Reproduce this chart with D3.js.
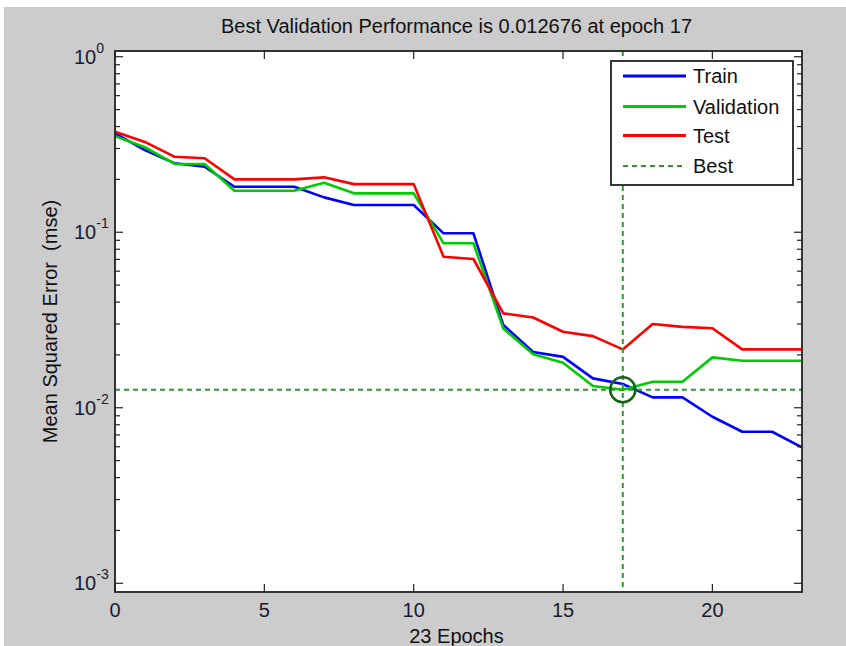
<!DOCTYPE html>
<html><head><meta charset="utf-8">
<script src="https://cdn.jsdelivr.net/npm/d3@7"></script>
<style>
body{margin:0;background:#fff}
svg{display:block;font-family:"Liberation Sans",Arial,sans-serif}
text{white-space:pre}
</style>
</head><body><svg id="c" width="846" height="646"></svg>
<script>
// ---- data ----
const epochs    = [0,1,2,3,4,5,6,7,8,9,10,11,12,13,14,15,16,17,18,19,20,21,22,23];
const trainPerf = [0.366,0.294,0.247,0.236,0.1816,0.1816,0.1816,0.158,0.143,0.143,0.143,0.0986,0.0986,0.0296,0.0208,0.0195,0.0147,0.01365,0.01146,0.01146,0.00889,0.0073,0.0073,0.00595];
const valPerf   = [0.353,0.305,0.245,0.245,0.1723,0.1723,0.1723,0.1914,0.1666,0.1666,0.1666,0.0865,0.0865,0.0283,0.0202,0.01805,0.0133,0.012676,0.01406,0.01406,0.01937,0.01853,0.01853,0.01853];
const testPerf  = [0.374,0.327,0.269,0.264,0.200,0.200,0.200,0.2055,0.188,0.188,0.188,0.0725,0.0704,0.0345,0.0327,0.0271,0.0256,0.0215,0.0300,0.0289,0.0284,0.0215,0.0215,0.0215];
const bestEpoch = 17;
const bestPerf  = 0.012676;
const xTicks    = [0,5,10,15,20];
const yExponents = [0,-1,-2,-3];
const legendNames  = ["Train","Validation","Test","Best"];
const legendColors = ["#0000ff","#00cc00","#ff0000","#2e9a2e"];
const titleText = "Best Validation Performance is 0.012676 at epoch 17";
const xLabel = "23 Epochs";
const yLabel = "Mean Squared Error  (mse)";

// ---- layout ----
const L=115, R=802, T=51, B=592;
const svg = d3.select("#c");
svg.append("rect").attr("x",4).attr("y",7).attr("width",842).attr("height",639).attr("fill","#cccccc");
svg.append("rect").attr("x",L).attr("y",T).attr("width",R-L).attr("height",B-T).attr("fill","#fff");

const x = d3.scaleLinear().domain([0,23]).range([L,R]);
const y = d3.scaleLog().domain([8.92e-4,1.078]).range([B,T]);

// ---- lines ----
const line = d3.line().x((d,i)=>x(epochs[i])).y(d=>y(d));
const series = [trainPerf,valPerf,testPerf];
series.forEach((s,i)=>{
  svg.append("path").attr("d",line(s)).attr("fill","none")
    .attr("stroke",legendColors[i]).attr("stroke-width",2.6).attr("stroke-linejoin","round");
});

// best lines
svg.append("line").attr("x1",x(bestEpoch)).attr("x2",x(bestEpoch)).attr("y1",T).attr("y2",B)
  .attr("stroke",legendColors[3]).attr("stroke-width",2).attr("stroke-dasharray","5,4");
svg.append("line").attr("x1",L).attr("x2",R).attr("y1",y(bestPerf)).attr("y2",y(bestPerf))
  .attr("stroke",legendColors[3]).attr("stroke-width",2).attr("stroke-dasharray","5,4");
svg.append("circle").attr("cx",x(bestEpoch)).attr("cy",y(bestPerf)).attr("r",12.5)
  .attr("fill","none").attr("stroke","#146414").attr("stroke-width",2.6);

// ---- axes box & ticks ----
const axCol="#222";
const tg = svg.append("g").attr("stroke",axCol).attr("stroke-width",1.2);
xTicks.forEach(t=>{
  tg.append("line").attr("x1",x(t)).attr("x2",x(t)).attr("y1",B).attr("y2",B-8);
  tg.append("line").attr("x1",x(t)).attr("x2",x(t)).attr("y1",T).attr("y2",T+8);
});
yExponents.forEach(e=>{
  const v=Math.pow(10,e);
  tg.append("line").attr("x1",L).attr("x2",L+8).attr("y1",y(v)).attr("y2",y(v));
  tg.append("line").attr("x1",R).attr("x2",R-8).attr("y1",y(v)).attr("y2",y(v));
});
yExponents.slice(1).forEach(e=>{
  const d=Math.pow(10,e);
  for(let k=2;k<=9;k++){
    const v=k*d;
    tg.append("line").attr("x1",L).attr("x2",L+5).attr("y1",y(v)).attr("y2",y(v));
    tg.append("line").attr("x1",R).attr("x2",R-5).attr("y1",y(v)).attr("y2",y(v));
  }
});
svg.append("rect").attr("x",L).attr("y",T).attr("width",R-L).attr("height",B-T)
  .attr("fill","none").attr("stroke",axCol).attr("stroke-width",1.8);

// tick labels
const txtCol="#1a1a2e";
xTicks.forEach(t=>{
  svg.append("text").attr("x",x(t)).attr("y",617).attr("text-anchor","middle")
    .attr("font-size",20).attr("fill",txtCol).text(t);
});
yExponents.forEach(e=>{
  const v=Math.pow(10,e);
  const tx=svg.append("text").attr("x",74).attr("y",y(v)+7).attr("font-size",20).attr("fill",txtCol);
  tx.append("tspan").text("10");
  tx.append("tspan").attr("dy",-11).attr("font-size",14).text(e===0?"0":String(e));
});

// title & labels
svg.append("text").attr("x",(L+R)/2-2).attr("y",33).attr("text-anchor","middle")
  .attr("font-size",20).attr("fill","#111").text(titleText);
svg.append("text").attr("x",(L+R)/2-2).attr("y",643).attr("text-anchor","middle")
  .attr("font-size",20).attr("fill","#111").text(xLabel);
svg.append("text").attr("transform",`translate(57,${(T+B)/2}) rotate(-90)`).attr("text-anchor","middle")
  .attr("font-size",20).attr("fill","#111").text(yLabel);

// ---- legend ----
const lg = svg.append("g");
lg.append("rect").attr("x",611).attr("y",61).attr("width",182).attr("height",124)
  .attr("fill","#fff").attr("stroke",axCol).attr("stroke-width",1.8);
const ly=[76,106.5,135.5,166];
legendNames.forEach((n,i)=>{
  lg.append("line").attr("x1",623).attr("x2",686).attr("y1",ly[i]).attr("y2",ly[i])
    .attr("stroke",legendColors[i]).attr("stroke-width",i===3?2:2.8)
    .attr("stroke-dasharray",i===3?"5,4":null);
  lg.append("text").attr("x",693).attr("y",ly[i]+7).attr("font-size",20).attr("fill","#111").text(n);
});
</script>
</body></html>
